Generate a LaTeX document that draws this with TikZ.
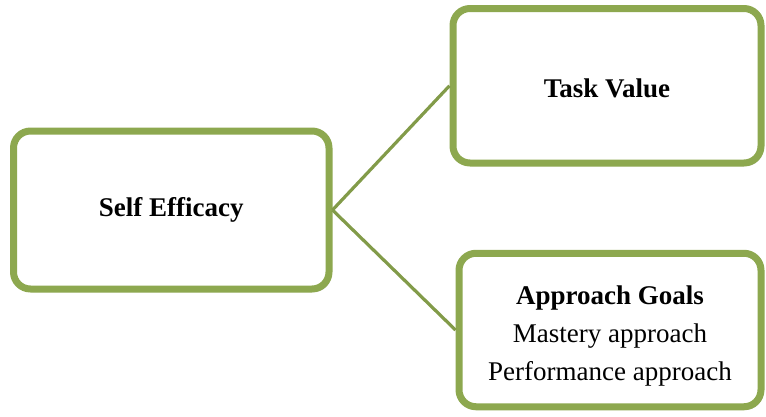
\documentclass[tikz,border=0pt]{standalone}
\usepackage{fontspec}
\setmainfont{Liberation Serif}
\usetikzlibrary{shadows}

\definecolor{olivegreen}{HTML}{8DA84F}

\begin{document}
\begin{tikzpicture}[x=1pt,y=-1pt,
  every node/.style={font=\fontsize{27}{38}\selectfont},
  factor/.style={draw=olivegreen,line width=7pt,rounded corners=17pt,fill=white,
    align=center,inner sep=0pt,
    drop shadow={shadow xshift=2pt,shadow yshift=-3pt,opacity=0.18,fill=black}},
  link/.style={draw=olivegreen!92!black,line width=3.2pt}]
\useasboundingbox (0,0) rectangle (766,416);
\node [factor,minimum width=315.5pt,minimum height=158pt] (self) at (171.25,210) {\textbf{Self Efficacy}};
\node [factor,minimum width=308pt,minimum height=154.5pt] (task) at (607,85.75) {\rule{0pt}{23pt}\textbf{Task Value}};
\node [factor,minimum width=302pt,minimum height=153.5pt] (goals) at (610,330)
  {\rule{0pt}{30pt}\textbf{Approach Goals}\\Mastery approach\\Performance approach};
\draw [link] (self.east) -- (task.west);
\draw [link] (self.east) -- (goals.west);
\end{tikzpicture}
\end{document}
